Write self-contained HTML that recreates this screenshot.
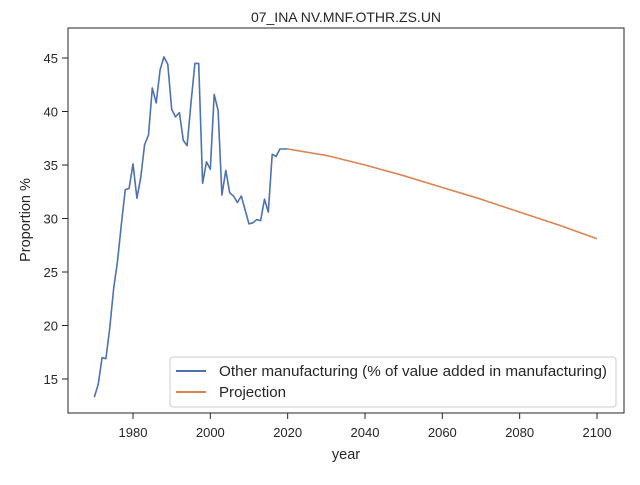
<!DOCTYPE html>
<html><head><meta charset="utf-8"><style>
body{margin:0;background:#fff;font-family:"Liberation Sans","DejaVu Sans",sans-serif;}
svg text{font-family:"Liberation Sans","DejaVu Sans",sans-serif;fill:#262626;}
</style></head><body>
<svg id="chart" width="640" height="480" xmlns="http://www.w3.org/2000/svg">
<rect x="0" y="0" width="640" height="480" fill="#fff"/>
<text x="346" y="22" text-anchor="middle" font-size="14">07_INA NV.MNF.OTHR.ZS.UN</text>
<g id="ticks"></g>
<g id="series"></g>
<rect x="68" y="28" width="556" height="385" fill="none" stroke="#262626" stroke-width="1"/>
<text x="346" y="459" text-anchor="middle" font-size="14.5">year</text>
<text transform="translate(30,220) rotate(-90)" text-anchor="middle" font-size="14.5">Proportion %</text>
<g>
<rect x="170" y="357" width="446" height="50" rx="3" fill="#fff" fill-opacity="0.8" stroke="#ccc"/>
<line x1="176" y1="371" x2="206" y2="371" stroke="#4c72b0" stroke-width="2"/>
<text x="219" y="376" font-size="14.5" textLength="388" lengthAdjust="spacingAndGlyphs">Other manufacturing (% of value added in manufacturing)</text>
<line x1="176" y1="392" x2="206" y2="392" stroke="#dd8452" stroke-width="2"/>
<text x="219" y="397" font-size="14.5" textLength="67" lengthAdjust="spacingAndGlyphs">Projection</text>
</g>
</svg>
<script>
const histYears = [];
for (let y = 1970; y <= 2020; y++) histYears.push(y);
const histValues = [13.3,14.5,17.0,16.9,19.8,23.5,26.0,29.5,32.7,32.8,35.1,31.9,33.8,36.9,37.8,42.2,40.8,43.9,45.1,44.4,40.2,39.5,39.9,37.3,36.8,40.8,44.5,44.5,33.3,35.3,34.6,41.6,40.1,32.2,34.5,32.4,32.1,31.5,32.1,30.8,29.5,29.6,29.9,29.8,31.8,30.6,36.0,35.8,36.5,36.5,36.5];
const projYears = [2020,2030,2040,2050,2060,2070,2080,2090,2100];
const projValues = [36.5,35.9,35.0,34.0,32.9,31.8,30.6,29.4,28.1];
const xTicks = [1980,2000,2020,2040,2060,2080,2100];
const yTicks = [15,20,25,30,35,40,45];

const NS = "http://www.w3.org/2000/svg";
const xs = v => 133 + (v - 1980) * (464 / 120);
const ys = v => 379 - (v - 15) * (321 / 30);
const tg = document.getElementById('ticks');
xTicks.forEach(t => {
  const l = document.createElementNS(NS, 'line');
  l.setAttribute('x1', xs(t)); l.setAttribute('x2', xs(t));
  l.setAttribute('y1', 413); l.setAttribute('y2', 419);
  l.setAttribute('stroke', '#262626');
  
  
  tg.appendChild(l);
  const tx = document.createElementNS(NS, 'text');
  tx.setAttribute('x', xs(t)); tx.setAttribute('y', 437);
  tx.setAttribute('text-anchor', 'middle'); tx.setAttribute('font-size', '13');
  tx.textContent = t;
  
  
  tg.appendChild(tx);
});
yTicks.forEach(t => {
  const l = document.createElementNS(NS, 'line');
  l.setAttribute('x1', 62); l.setAttribute('x2', 68);
  l.setAttribute('y1', ys(t)); l.setAttribute('y2', ys(t));
  l.setAttribute('stroke', '#262626');
  
  
  tg.appendChild(l);
  const tx = document.createElementNS(NS, 'text');
  tx.setAttribute('x', 58); tx.setAttribute('y', ys(t) + 5);
  tx.setAttribute('text-anchor', 'end'); tx.setAttribute('font-size', '13');
  tx.textContent = t;
  
  
  tg.appendChild(tx);
});
const sg = document.getElementById('series');
function addLine(xa, ya, color, name) {
  const p = document.createElementNS(NS, 'polyline');
  p.setAttribute('points', xa.map((x, i) => xs(x).toFixed(1) + ',' + ys(ya[i]).toFixed(1)).join(' '));
  p.setAttribute('fill', 'none'); p.setAttribute('stroke', color);
  p.setAttribute('stroke-width', '1.6'); p.setAttribute('stroke-linejoin', 'round');
  
  
  sg.appendChild(p);
}
addLine(histYears, histValues, '#4c72b0', 'history-line');
addLine(projYears, projValues, '#dd8452', 'projection-line');
</script>
</body></html>
